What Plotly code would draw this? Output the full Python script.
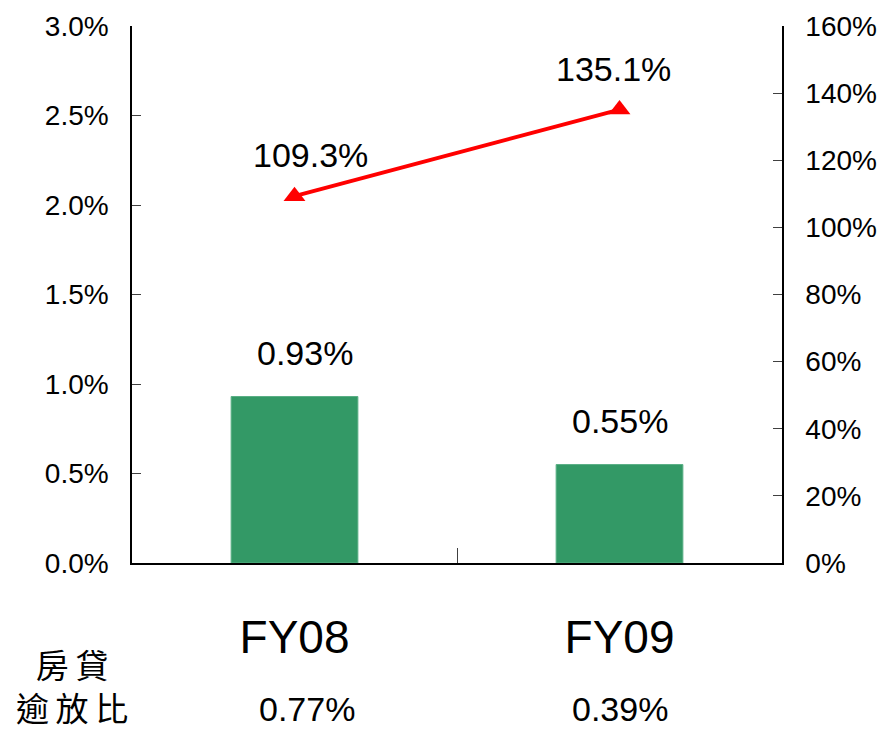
import plotly.graph_objects as go

categories = ["FY08", "FY09"]
npl_ratio = [0.93, 0.55]          # % (left axis, bars)
coverage_ratio = [109.3, 135.1]   # % (right axis, line)
mortgage_npl = [0.77, 0.39]       # % (bottom row)
left_ticks = [0, 0.5, 1.0, 1.5, 2.0, 2.5, 3.0]
right_ticks = [0, 20, 40, 60, 80, 100, 120, 140, 160]

FONT = "Liberation Sans, Arial, sans-serif"

W, H = 881, 731
ml, mr, mt, mb = 132, 99, 26, 168
pw, ph = W - ml - mr, H - mt - mb


def px_x(x):
    return (x - ml) / pw


def px_y(y):
    return (H - mb - y) / ph


fig = go.Figure()
fig.add_trace(go.Bar(
    x=categories, y=npl_ratio, width=0.39,
    marker=dict(color="#339966", line=dict(color="#5aaf85", width=1)),
    showlegend=False, hoverinfo="skip",
))
fig.add_trace(go.Scatter(
    x=categories, y=coverage_ratio, yaxis="y2", mode="lines+markers",
    line=dict(color="#FF0000", width=4),
    marker=dict(symbol="triangle-up", size=19, color="#FF0000"),
    showlegend=False, hoverinfo="skip",
))

ann = []
for c, v in zip(categories, npl_ratio):
    ann.append(dict(x=c, y=v, xref="x", yref="y", text=f"{v:.2f}%",
                    showarrow=False, yshift=44, xshift=10 if c == "FY08" else 0,
                    font=dict(size=34, color="black", family=FONT)))
for c, v in zip(categories, coverage_ratio):
    ann.append(dict(x=c, y=v, xref="x", yref="y2", text=f"{v:.1f}%",
                    showarrow=False, yshift=41, xshift=16 if c == "FY08" else -6,
                    font=dict(size=34, color="black", family=FONT)))
for c, v in zip(categories, mortgage_npl):
    ann.append(dict(x=c, y=px_y(709), xref="x", yref="paper", text=f"{v:.2f}%",
                    showarrow=False, yanchor="middle",
                    xshift=12 if c == "FY08" else 0,
                    font=dict(size=34, color="black", family=FONT)))
ann.append(dict(x=px_x(72), y=px_y(685), xref="paper", yref="paper",
                text="房\u2009貸<br>逾\u2009放\u2009比",
                showarrow=False, xanchor="center", yanchor="middle", align="center",
                font=dict(size=33, color="black", family="Noto Sans CJK TC")))

fig.update_layout(
    width=W, height=H,
    margin=dict(l=ml, r=mr, t=mt, b=mb, autoexpand=False),
    paper_bgcolor="white", plot_bgcolor="white",
    font=dict(family=FONT, color="black"),
    bargap=0.61,
    xaxis=dict(
        type="category", range=[-0.5, 1.5], automargin=False,
        showline=True, linecolor="black", linewidth=1.5,
        ticks="inside", tickson="boundaries", ticklen=15, tickcolor="#404040",
        tickfont=dict(size=46, family=FONT, color="black"),
        ticklabelstandoff=33, showgrid=False, zeroline=False,
    ),
    yaxis=dict(
        range=[0, 3.0], tickvals=left_ticks, automargin=False,
        ticktext=[f"{t:.1f}%" for t in left_ticks],
        showline=True, linecolor="black", linewidth=1.5,
        ticks="inside", ticklen=9, tickcolor="#404040",
        tickfont=dict(size=28, family=FONT, color="black"),
        ticklabelstandoff=16, showgrid=False, zeroline=False,
    ),
    yaxis2=dict(
        range=[0, 160], tickvals=right_ticks, automargin=False,
        ticktext=[f"{t}%" for t in right_ticks],
        overlaying="y", side="right",
        showline=True, linecolor="black", linewidth=1.5,
        ticks="inside", ticklen=9, tickcolor="#404040",
        tickfont=dict(size=28, family=FONT, color="black"),
        ticklabelstandoff=16, showgrid=False, zeroline=False,
    ),
    annotations=ann,
)

fig.write_html("out.html",
               config={"displayModeBar": False},
               post_script="document.body.style.margin='0';document.body.style.overflow='hidden';")
